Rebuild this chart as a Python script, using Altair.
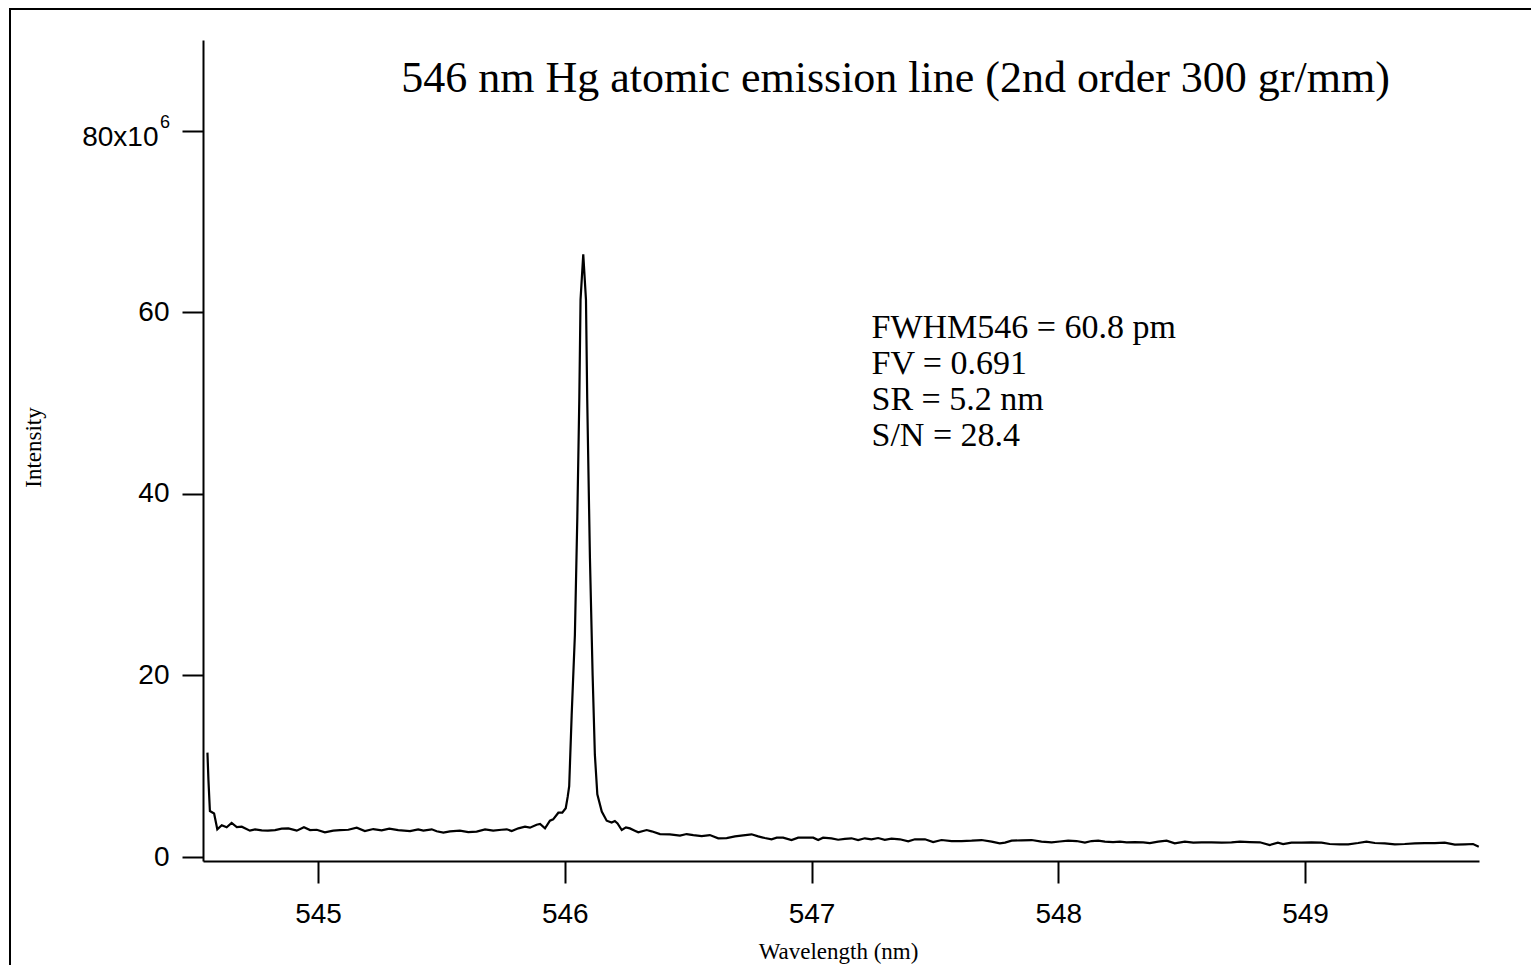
import altair as alt
import pandas as pd

# ---- data ----
wavelength_nm = [
    544.552, 544.556, 544.562, 544.579, 544.592, 544.610, 544.630, 544.650, 544.671, 544.691,
    544.724, 544.745, 544.772, 544.797, 544.826, 544.853, 544.880, 544.914, 544.943, 544.968,
    544.995, 545.028, 545.062, 545.089, 545.123, 545.157, 545.190, 545.224, 545.258, 545.289,
    545.325, 545.373, 545.406, 545.427, 545.461, 545.481, 545.508, 545.535, 545.575, 545.609,
    545.643, 545.677, 545.710, 545.744, 545.765, 545.785, 545.812, 545.839, 545.859, 545.886,
    545.900, 545.920, 545.940, 545.953, 545.974, 545.990, 546.004, 546.012, 546.018, 546.028,
    546.041, 546.051, 546.059, 546.064, 546.075, 546.086, 546.091, 546.102, 546.113, 546.122,
    546.132, 546.150, 546.170, 546.190, 546.203, 546.214, 546.231, 546.248, 546.264, 546.284,
    546.298, 546.332, 546.352, 546.386, 546.426, 546.467, 546.494, 546.521, 546.555, 546.588,
    546.622, 546.656, 546.690, 546.723, 546.757, 546.784, 546.811, 546.838, 546.859, 546.885,
    546.919, 546.946, 546.980, 547.007, 547.027, 547.047, 547.081, 547.108, 547.135, 547.162,
    547.189, 547.216, 547.243, 547.270, 547.297, 547.324, 547.358, 547.392, 547.419, 547.460,
    547.493, 547.527, 547.568, 547.608, 547.649, 547.689, 547.730, 547.763, 547.784, 547.811,
    547.851, 547.892, 547.932, 547.973, 548.006, 548.040, 548.074, 548.108, 548.135, 548.162,
    548.189, 548.222, 548.250, 548.277, 548.310, 548.344, 548.371, 548.405, 548.439, 548.472,
    548.513, 548.547, 548.581, 548.621, 548.662, 548.702, 548.736, 548.776, 548.817, 548.857,
    548.890, 548.911, 548.945, 548.986, 549.026, 549.067, 549.100, 549.141, 549.175, 549.215,
    549.249, 549.283, 549.323, 549.364, 549.404, 549.445, 549.485, 549.526, 549.566, 549.607,
    549.648, 549.681, 549.704,
]
intensity_1e6 = [
    11.5, 8.5, 5.07, 4.8, 3.05, 3.5, 3.27, 3.75, 3.3, 3.34,
    2.9, 3.05, 2.94, 2.9, 2.97, 3.12, 3.16, 2.9, 3.27, 2.97,
    3.0, 2.72, 2.9, 2.97, 3.0, 3.23, 2.86, 3.08, 2.94, 3.12,
    2.97, 2.86, 3.05, 2.9, 3.05, 2.83, 2.68, 2.83, 2.9, 2.75,
    2.79, 3.05, 2.9, 3.0, 3.05, 2.86, 3.16, 3.34, 3.23, 3.56,
    3.64, 3.16, 4.0, 4.15, 4.88, 4.88, 5.37, 6.65, 7.8, 15.6,
    24.4, 37.5, 50.5, 61.4, 66.4, 61.4, 50.5, 33.0, 20.0, 11.3,
    6.9, 5.0, 4.0, 3.8, 3.97, 3.7, 2.97, 3.27, 3.15, 2.9,
    2.72, 2.97, 2.83, 2.53, 2.5, 2.35, 2.53, 2.42, 2.31, 2.42,
    2.06, 2.09, 2.27, 2.39, 2.5, 2.27, 2.09, 1.95, 2.13, 2.13,
    1.87, 2.13, 2.13, 2.13, 1.87, 2.13, 2.06, 1.9, 2.0, 2.06,
    1.87, 2.06, 1.95, 2.09, 1.9, 2.02, 1.95, 1.73, 1.95, 1.95,
    1.65, 1.87, 1.76, 1.76, 1.8, 1.87, 1.69, 1.51, 1.58, 1.8,
    1.84, 1.87, 1.69, 1.62, 1.71, 1.8, 1.76, 1.58, 1.76, 1.8,
    1.69, 1.65, 1.69, 1.62, 1.65, 1.62, 1.54, 1.69, 1.8, 1.51,
    1.69, 1.58, 1.62, 1.62, 1.58, 1.62, 1.69, 1.65, 1.62, 1.32,
    1.58, 1.43, 1.58, 1.58, 1.62, 1.58, 1.43, 1.4, 1.4, 1.54,
    1.69, 1.54, 1.51, 1.4, 1.43, 1.51, 1.54, 1.54, 1.58, 1.36,
    1.4, 1.43, 1.14,
]
x_ticks = [545, 546, 547, 548, 549]
y_ticks = [0, 20, 40, 60, 80]
x_domain = [544.534, 549.705]
y_domain = [-0.44, 90]

title_text = "546 nm Hg atomic emission line (2nd order 300 gr/mm)"
note_lines = ["FWHM546 = 60.8 pm", "FV = 0.691", "SR = 5.2 nm", "S/N = 28.4"]

df = pd.DataFrame({"wavelength": wavelength_nm, "intensity": intensity_1e6})

W, H = 1276, 821
PAD_R = 52
SERIF = "Liberation Serif"
SANS = "Liberation Sans"

is80 = "datum.value == 80"

x_enc = alt.X(
    "wavelength:Q",
    scale=alt.Scale(domain=x_domain, nice=False, zero=False),
    axis=alt.Axis(
        values=x_ticks, title="Wavelength (nm)", grid=False,
        domainColor="black", domainWidth=2, tickColor="black", tickWidth=2, tickSize=22,
        labelFont=SANS, labelFontSize=28, labelColor="black", labelPadding=39,
        labelBaseline="alphabetic", labelFlush=False,
        titleFont=SERIF, titleFontSize=23, titleFontWeight="normal", titleColor="black",
        titleX=635, titleY=97, titleAlign="center", titleBaseline="alphabetic",
    ),
)
y_enc = alt.Y(
    "intensity:Q",
    scale=alt.Scale(domain=y_domain, nice=False, zero=False),
    axis=alt.Axis(
        values=y_ticks, title="Intensity", grid=False,
        domainColor="black", domainWidth=2, tickColor="black", tickWidth=2, tickSize=21,
        labelFont=SANS, labelFontSize=28, labelColor="black",
        labelExpr="datum.value == 80 ? '80x10' : datum.label",
        labelPadding={"condition": {"test": is80, "value": 24}, "value": 13},
        labelOffset={"condition": {"test": is80, "value": 7}, "value": 0},
        labelBaseline="middle", labelFlush=False,
        titleFont=SERIF, titleFontSize=23, titleFontWeight="normal", titleColor="black",
        titleX=-170, titleY=407, titleAlign="center", titleBaseline="middle", titleAngle=270,
    ),
)

line = alt.Chart(df).mark_line(color="black", strokeWidth=2.2, clip=False).encode(x=x_enc, y=y_enc)

title_mark = alt.Chart(pd.DataFrame({"t": [title_text]})).mark_text(
    font=SERIF, fontSize=44, color="black", align="center", baseline="alphabetic"
).encode(x=alt.value(692.5), y=alt.value(52), text="t:N")

notes = alt.Chart(pd.DataFrame({"t": [0]})).mark_text(
    font=SERIF, fontSize=34, color="black", align="left", baseline="alphabetic", lineHeight=36
).encode(x=alt.value(668.5), y=alt.value(298), text=alt.value(note_lines))

sup = alt.Chart(pd.DataFrame({"t": ["6"]})).mark_text(
    font=SANS, fontSize=18, color="black", align="left", baseline="alphabetic"
).encode(x=alt.value(-43), y=alt.value(88), text="t:N")

# outer frame (only its left and top edges fall inside the window)
frame_left = alt.Chart(pd.DataFrame({"t": [0]})).mark_rule(color="black", strokeWidth=2).encode(
    x=alt.value(-193), y=alt.value(-31), y2=alt.value(H + 120)
)
frame_top = alt.Chart(pd.DataFrame({"t": [0]})).mark_rule(color="black", strokeWidth=2).encode(
    x=alt.value(-194), x2=alt.value(W + PAD_R + 40), y=alt.value(-31)
)

chart = alt.layer(frame_left, frame_top, line, title_mark, notes, sup).properties(
    width=W, height=H,
    padding={"left": 195, "top": 32, "right": PAD_R, "bottom": 104},
    autosize=alt.AutoSizeParams(type="none"),
).configure_view(stroke=None)

chart.save("out.html", embed_options={"renderer": "svg", "actions": False})
